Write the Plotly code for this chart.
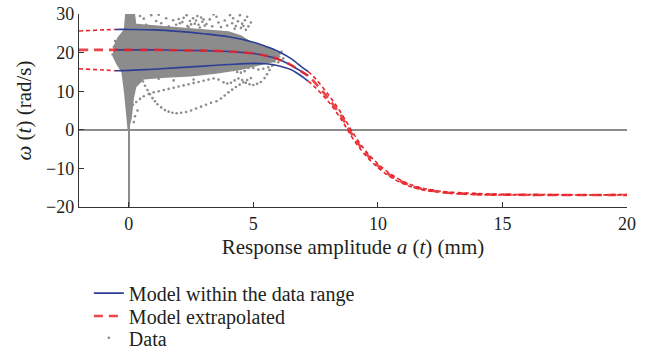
import plotly.graph_objects as go

# ---------------- data ----------------
# Model curves within the data range
model_in_x = [-0.56, 0, 1, 2, 3, 4, 5, 5.5, 6, 6.5, 7, 7.2]
model_in_upper = [26.0, 26.0, 25.9, 25.5, 24.9, 24.1, 22.7, 21.6, 20.3, 18.5, 16.0, 15.1]
model_in_mid = [20.7, 20.7, 20.7, 20.6, 20.5, 20.3, 19.8, 19.2, 18.3, 16.8, 14.8, 14.0]
model_in_lower = [15.3, 15.4, 15.7, 16.1, 16.5, 16.9, 17.2, 17.1, 16.6, 15.6, 13.6, 12.6]

# Extrapolated model, left side
ext_left_x = [-2, -1.5, -1, -0.56]
ext_left_upper = [25.6, 25.75, 25.9, 26.0]
ext_left_mid = [20.7, 20.7, 20.7, 20.7]
ext_left_lower = [15.8, 15.65, 15.5, 15.3]

# Extrapolated model, right side
ext_right_x = [7.2, 7.5, 8, 8.5, 9, 9.5, 10, 10.5, 11, 11.5, 12, 12.5, 13, 14, 15, 17, 20]
ext_right_upper = [15.1, 13.2, 9.2, 4.6, -0.8, -5.4, -8.8, -11.4, -13.3, -14.6, -15.4, -15.9, -16.2, -16.5, -16.7, -16.8, -16.8]
ext_right_mid = [14.0, 12.0, 8.2, 3.8, -1.6, -6.0, -9.3, -11.8, -13.6, -14.9, -15.6, -16.1, -16.4, -16.7, -16.8, -16.9, -16.9]
ext_right_lower = [12.6, 10.9, 7.4, 3.0, -2.3, -6.6, -9.8, -12.2, -13.9, -15.1, -15.8, -16.2, -16.5, -16.8, -16.9, -16.9, -16.9]

# Envelope of the dense part of the measured data cloud
core_x = [0.0, 0.12, 0.2, 0.3, 0.6, 1.5, 2.5, 3.5, 4.5, 5.2, 5.8, 6.1, 5.8, 5.0, 4.5, 4.0,
          3.0, 2.0, 1.0, 0.3, 0.25, -0.15, -0.2, -0.45, -0.6, -0.65, -0.5, -0.3, -0.2, -0.12, -0.05]
core_y = [0.0, 3.0, 8.0, 11.0, 13.0, 13.5, 13.8, 14.5, 15.5, 16.5, 17.5, 19.0, 21.0, 22.5, 24.5, 25.5,
          26.0, 26.5, 27.0, 27.5, 30.0, 30.0, 26.0, 24.0, 22.0, 19.0, 17.0, 15.0, 10.0, 5.0, 0.0]

# Sparse measured points
data_x = [0.45, 0.6, 0.9, 1.1, 1.3, 1.5, 1.78, 1.9, 2.05, 2.2, 2.32, 2.45, 2.58, 2.65, 2.75, 2.85,
          2.95, 3.05, 3.12, 3.25, 3.35, 3.52, 3.6, 3.7, 3.85, 3.95, 4.06, 4.15, 4.19, 4.3, 4.38, 4.46,
          4.55, 4.66, 4.75, 4.8, 4.9, 1.6, 2.4, 0.7, 1.2, 3.4, 2.0, 2.15, 2.5, 2.7, 2.9, 3.0, 2.35,
          2.8, 4.5, 4.6, 4.25, 4.7,
          0.17, 0.3, 0.45, 0.6, 0.8, 1.0, 1.2, 1.4, 1.6, 1.8, 2.0, 2.2, 2.4, 2.6, 2.8, 3.0, 3.2, 3.4,
          0.57, 0.65, 0.75, 0.85, 0.95, 1.05, 1.15, 1.3, 1.45, 1.6, 1.75, 1.92, 2.1, 2.3, 2.5, 2.7,
          2.9, 3.1, 3.3, 3.52, 3.7, 3.85, 4.0, 4.15, 4.3, 4.45, 4.6, 4.75, 4.9,
          3.6, 3.8, 3.95, 4.1, 4.25, 4.4, 4.55, 4.7, 4.85, 5.0, 5.15, 5.3, 5.45, 5.55, 5.65, 5.75,
          5.85, 5.95, 6.05, 6.13, 6.0, 5.9,
          4.2, 4.35, 4.5, 4.65, 4.8, 5.0, 5.2, 5.4, 5.6, 5.8, 6.0, 6.2,
          0.25, 0.35, 0.2, 1.2, 1.8, 2.6, -0.6, -0.65, -0.55]
data_y = [29.5, 28.8, 29.7, 28.2, 27.6, 28.9, 28.4, 27.2, 27.6, 29.0, 29.7, 28.2, 28.9, 27.5, 29.5, 26.5,
          28.0, 27.0, 27.4, 28.6, 26.8, 29.3, 27.8, 26.6, 28.3, 27.0, 29.7, 27.6, 28.9, 26.9, 28.1, 29.7,
          27.5, 28.4, 29.3, 26.8, 27.8, 26.8, 26.6, 27.2, 29.8, 29.9, 28.7, 27.9, 27.3, 28.3, 29.1, 28.6, 26.9,
          27.2, 26.4, 26.9, 26.2, 25.9,
          6.5, 7.2, 8.0, 8.7, 9.3, 9.7, 10.0, 10.3, 10.6, 10.9, 11.2, 11.5, 11.8, 12.1, 12.4, 12.7, 13.0, 13.3,
          12.5, 11.4, 10.3, 9.2, 8.2, 7.4, 6.6, 5.8, 5.1, 4.7, 4.4, 4.3, 4.4, 4.6, 5.0, 5.5,
          6.0, 6.5, 7.0, 7.4, 8.1, 8.9, 9.7, 10.4, 11.1, 11.7, 12.3, 12.9, 13.4,
          13.0, 12.3, 12.0, 12.2, 12.8, 13.3, 12.9, 12.2, 11.8, 11.6, 11.9, 12.4, 13.4, 14.4, 15.5, 16.6,
          17.7, 18.8, 19.7, 20.2, 20.0, 19.0,
          15.5, 15.0, 14.8, 15.2, 16.0, 16.0, 15.6, 15.8, 16.2, 16.8, 17.5, 18.5,
          3.5, 5.0, 2.0, 13.2, 12.8, 13.0, 21.5, 19.5, 23.0]

x_ticks = [0, 5, 10, 15, 20]
y_ticks = [-20, -10, 0, 10, 20, 30]

# ---------------- styling ----------------
FONT = "Liberation Serif"
GRAY = "#8c8c8c"
BLUE = "#2d3f94"
RED = "#e8252c"
TXT = "#231f20"

fig = go.Figure()

# data cloud
fig.add_trace(go.Scatter(x=core_x, y=core_y, mode="lines", fill="toself", fillcolor=GRAY,
                         line=dict(width=0, color=GRAY), showlegend=False, hoverinfo="skip"))
fig.add_trace(go.Scatter(x=data_x, y=data_y, mode="markers", name="Data", legend="legend3",
                         marker=dict(size=2.6, color=GRAY)))

# model within range (blue)
for i, yy in enumerate([model_in_upper, model_in_mid, model_in_lower]):
    fig.add_trace(go.Scatter(x=model_in_x, y=yy, mode="lines", line=dict(color=BLUE, width=1.6, shape="spline"),
                             name="Model within the data range", showlegend=(i == 0), legend="legend"))

# extrapolated upper/lower (thin short dashes)
for xs, ys in [(ext_left_x, ext_left_upper), (ext_left_x, ext_left_lower),
               (ext_right_x, ext_right_upper), (ext_right_x, ext_right_lower)]:
    fig.add_trace(go.Scatter(x=xs, y=ys, mode="lines", showlegend=False,
                             line=dict(color=RED, width=1.6, dash="4px,3px", shape="spline")))

# extrapolated middle curve (thick long dashes, across full range)
mid_x = ext_left_x[:-1] + model_in_x + ext_right_x[1:]
mid_y = ext_left_mid[:-1] + model_in_mid + ext_right_mid[1:]
fig.add_trace(go.Scatter(x=mid_x, y=mid_y, mode="lines", name="Model extrapolated", legend="legend2",
                         opacity=0.85, line=dict(color=RED, width=2.6, dash="9px,6px", shape="spline")))

leg_common = dict(x=0.018, xanchor="left", yanchor="middle", orientation="v",
                  font=dict(family=FONT, size=20, color=TXT), bgcolor="rgba(0,0,0,0)",
                  itemwidth=30)

fig.update_layout(
    width=648, height=360,
    margin=dict(l=79, r=21, t=14, b=153, autoexpand=False),
    paper_bgcolor="white", plot_bgcolor="white",
    font=dict(family=FONT, size=18, color=TXT),
    showlegend=True,
    legend=dict(y=-0.446, **leg_common),
    legend2=dict(y=-0.565, **leg_common),
    legend3=dict(y=-0.678, **leg_common),
)
fig.update_xaxes(range=[-2, 20], tickvals=x_ticks, ticks="inside", ticklen=5, tickcolor="#333",
                 showline=True, linecolor="#333", linewidth=1.3, showgrid=False,
                 zeroline=True, zerolinecolor="#8c8c8c", zerolinewidth=1.6,
                 title=dict(text="Response amplitude <i>a</i> (<i>t</i>) (mm)", standoff=6,
                            font=dict(family=FONT, size=21)),
                 tickfont=dict(family=FONT, size=18))
fig.update_yaxes(range=[-20, 30], tickvals=y_ticks, ticks="inside", ticklen=5, tickcolor="#333",
                 tickformat="d",
                 showline=True, linecolor="#333", linewidth=1.3, showgrid=False,
                 zeroline=True, zerolinecolor="#8c8c8c", zerolinewidth=1.6,
                 title=dict(text="<i>ω</i> (<i>t</i>) (rad/s)", standoff=8,
                            font=dict(family=FONT, size=21)),
                 tickfont=dict(family=FONT, size=18))

fig.write_html("out.html")
